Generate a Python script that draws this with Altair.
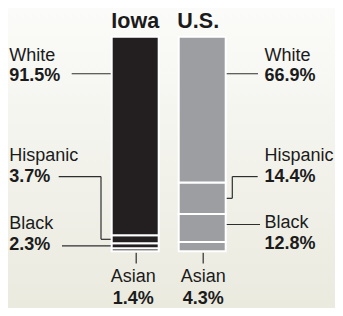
import altair as alt
import pandas as pd

# ---------------- data ----------------
states = ["Iowa", "U.S."]
races = ["White", "Hispanic", "Black", "Asian"]
iowa_pct = [91.5, 3.7, 2.3, 1.4]
us_pct = [66.9, 14.4, 12.8, 4.3]
bar_colors = ["#231f20", "#9d9ea2"]

# ---------------- layout ----------------
W, H = 327, 300
K = (H - 3.5) / (314.3 - 5.0)   # vertical fit of the design into the page


def Y(yref):                    # design y (page px) -> chart px
    return 1.5 + (yref - 5.0) * K


X0, STEP = 135.2 - 8, 67.0      # bar centres (chart px)
Y_TOP, Y_BOTTOM = Y(33.3), Y(257.3)
SPAN = Y_BOTTOM - Y_TOP
BAR_W = 47
FONT = "Liberation Sans"
INK = "#1b1b1b"
LINE = "#2e2e2e"
TITLE_BASE = 20.0               # chart px, keeps the title inside the page
BOTTOM_BASE = 295.5             # chart px, keeps the last line inside the page


def fy(py):                     # chart px -> bar fraction (y scale units)
    return (Y_BOTTOM - py) / SPAN


def fx(px):                     # px offset -> x scale units
    return px / STEP


rows = []
for i, (st, vals) in enumerate(zip(states, [iowa_pct, us_pct])):
    total = sum(vals)
    base = 0.0
    for race, v in reversed(list(zip(races, vals))):
        f = v / total
        rows.append(dict(state=st, idx=i, race=race, pct=v,
                         y0=base, y1=base + f, mid=base + f / 2))
        base += f
bars = pd.DataFrame(rows)
mid = {(r.state, r.race): r.mid for r in bars.itertuples()}
pct = {(r.state, r.race): r.pct for r in bars.itertuples()}

# state, race, name baseline, value baseline, leader y (None = segment mid),
# elbow x offset (None = straight), outer end x offset
label_layout = [
    ("Iowa", "White", 58.3, 80.0, 72.0, None, -63.5),
    ("U.S.", "White", 58.3, 80.0, 72.0, None, 55.8),
    ("Iowa", "Hispanic", 163.3, 184.6, 179.3, -34.2, -76.5),
    ("U.S.", "Hispanic", 163.3, 185.0, 179.3, 30.1, 55.5),
    ("Iowa", "Black", 234.0, 255.7, None, None, -73.2),
    ("U.S.", "Black", 233.3, 255.0, 229.3, None, 57.8),
]
TEXT_OFF = {"Iowa": -125.9, "U.S.": 62.3}

name_rows, val_rows, seg_rows = [], [], []
for st, race, nb, vb, lead, elbow, outer in label_layout:
    i = states.index(st)
    x = i + fx(TEXT_OFF[st])
    name_rows.append(dict(x=x, y=fy(Y(nb)), t=race))
    val_rows.append(dict(x=x, y=fy(Y(vb)), t=f"{pct[(st, race)]:.1f}%"))
    m = mid[(st, race)]
    ly = m if lead is None else fy(Y(lead))
    edge = -BAR_W / 2 if st == "Iowa" else BAR_W / 2
    if elbow is None:
        seg_rows.append(dict(x1=i + fx(outer), x2=i + fx(edge), y1=ly, y2=ly))
    else:
        seg_rows.append(dict(x1=i + fx(outer), x2=i + fx(elbow), y1=ly, y2=ly))
        seg_rows.append(dict(x1=i + fx(elbow), x2=i + fx(elbow), y1=ly, y2=m))
        seg_rows.append(dict(x1=i + fx(elbow), x2=i + fx(edge), y1=m, y2=m))

# Asian labels under the bars
asian_off = {"Iowa": -2.0, "U.S.": 1.0}
a_name, a_val = [], []
for i, st in enumerate(states):
    seg_rows.append(dict(x1=i + fx(1), x2=i + fx(1), y1=fy(Y(258.8)), y2=fy(Y(270))))
    a_name.append(dict(x=i + fx(asian_off[st]), y=fy(Y(289.5)), t="Asian"))
    a_val.append(dict(x=i + fx(asian_off[st]), y=fy(min(Y(314.3), BOTTOM_BASE)),
                      t=f"{pct[(st, 'Asian')]:.1f}%"))

title_off = {"Iowa": 0.0, "U.S.": -4.0}
titles = pd.DataFrame([dict(x=i + fx(title_off[st]), y=fy(max(Y(21.6), TITLE_BASE)), t=st)
                       for i, st in enumerate(states)])
segs = pd.DataFrame(seg_rows)

xs = alt.Scale(domain=[0, 1], range=[X0, X0 + STEP], nice=False, zero=False, padding=0)
ys = alt.Scale(domain=[0, 1], range=[Y_BOTTOM, Y_TOP], nice=False, zero=False, padding=0)

bg = alt.Chart(pd.DataFrame({"a": [0]})).mark_rect(
    color=alt.LinearGradient(
        gradient="linear",
        stops=[alt.GradientStop(color="#fbfbf9", offset=0),
               alt.GradientStop(color="#eaeadf", offset=1)],
        x1=0, x2=0, y1=0, y2=1)
).encode(x=alt.value(0), x2=alt.value(W), y=alt.value(0), y2=alt.value(H))

leaders = alt.Chart(segs).mark_rule(color=LINE, strokeWidth=1.2).encode(
    x=alt.X("x1:Q", scale=xs, axis=None), x2="x2",
    y=alt.Y("y1:Q", scale=ys, axis=None), y2="y2")

bar_layer = alt.Chart(bars).mark_bar(size=BAR_W, stroke="white", strokeWidth=2).encode(
    x=alt.X("idx:Q", scale=xs, axis=None),
    y=alt.Y("y0:Q", scale=ys, axis=None), y2="y1",
    color=alt.Color("state:N", scale=alt.Scale(domain=states, range=bar_colors), legend=None),
)


def txt(rows_, align, bold=False, size=18):
    return alt.Chart(pd.DataFrame(rows_)).mark_text(
        align=align, baseline="alphabetic", font=FONT, fontSize=size,
        fontWeight="bold" if bold else "normal", color=INK
    ).encode(x=alt.X("x:Q", scale=xs, axis=None),
             y=alt.Y("y:Q", scale=ys, axis=None), text="t:N")


layers = [
    bg, leaders, bar_layer,
    txt(name_rows, "left"),
    txt(val_rows, "left", bold=True),
    txt(a_name, "center"),
    txt(a_val, "center", bold=True),
    txt(titles, "center", bold=True, size=21.5),
]

chart = alt.layer(*layers).properties(
    width=W, height=H, padding=0, autosize=alt.AutoSizeParams(type="none")
).configure_view(strokeWidth=0).configure(background="#f4f4ee")

chart.save("out.html", embed_options={"renderer": "svg", "actions": False})
